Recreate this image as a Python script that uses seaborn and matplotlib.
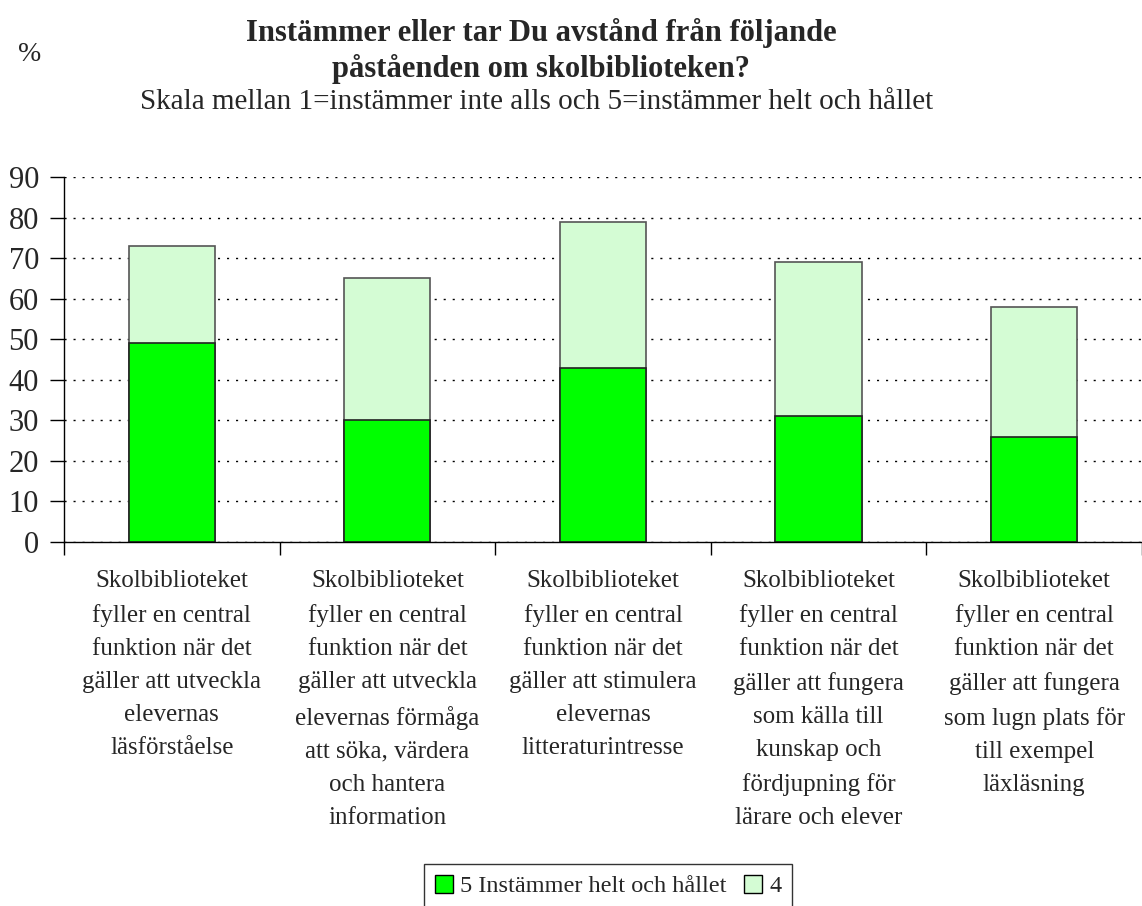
import pandas as pd
import matplotlib.pyplot as plt
import seaborn as sns
from matplotlib.patches import Patch

categories = [
    "Skolbiblioteket\nfyller en central\nfunktion när det\ngäller att utveckla\nelevernas\nläsförståelse",
    "Skolbiblioteket\nfyller en central\nfunktion när det\ngäller att utveckla\nelevernas förmåga\natt söka, värdera\noch hantera\ninformation",
    "Skolbiblioteket\nfyller en central\nfunktion när det\ngäller att stimulera\nelevernas\nlitteraturintresse",
    "Skolbiblioteket\nfyller en central\nfunktion när det\ngäller att fungera\nsom källa till\nkunskap och\nfördjupning för\nlärare och elever",
    "Skolbiblioteket\nfyller en central\nfunktion när det\ngäller att fungera\nsom lugn plats för\ntill exempel\nläxläsning",
]
helt = [49, 30, 43, 31, 26]
fyra = [24, 35, 36, 38, 32]
series_names = ["5 Instämmer helt och hållet", "4"]
y_ticks = [0, 10, 20, 30, 40, 50, 60, 70, 80, 90]

GREEN = "#00FF00"
LIGHT = "#D4FCD4"


def build_frame():
    df = pd.DataFrame({"kat": categories, "helt": helt, "fyra": fyra})
    df["total"] = df["helt"] + df["fyra"]
    return df


def plot_chart(df, save_path="out.png"):
    sns.set_style("white")
    plt.rcParams["font.family"] = ["Liberation Serif", "DejaVu Serif"]

    fig = plt.figure(figsize=(11.42, 9.06), dpi=100)
    ax = fig.add_axes([0.056, 0.4018, 0.944, 0.4029])

    sns.barplot(data=df, x="kat", y="total", color=LIGHT, width=0.4,
                edgecolor="#555555", linewidth=1.2, saturation=1, ax=ax)
    sns.barplot(data=df, x="kat", y="helt", color=GREEN, width=0.4,
                edgecolor="#222222", linewidth=1.2, saturation=1, ax=ax)

    ax.set_xlim(-0.5, len(categories) - 0.5)
    ax.set_ylim(0, 90)
    ax.set_yticks(y_ticks)
    ax.set_xlabel("")
    ax.set_ylabel("")
    ax.yaxis.grid(True, linestyle=(0, (1.5, 5)), color="black", linewidth=1)
    ax.set_axisbelow(True)

    for s in ["top", "right"]:
        ax.spines[s].set_visible(False)
    for s in ["left", "bottom"]:
        ax.spines[s].set_color("black")
        ax.spines[s].set_linewidth(1)

    ax.tick_params(axis="y", labelsize=22, length=10, width=1, color="black",
                   left=True, pad=8)
    ax.set_xticks(range(len(categories)))
    ax.set_xticklabels(categories, fontsize=18, linespacing=1.66, va="top")
    ax.tick_params(axis="x", which="major", length=0, pad=20)
    ax.set_xticks([i - 0.5 for i in range(len(categories) + 1)], minor=True)
    ax.tick_params(axis="x", which="minor", length=9, width=1, color="black",
                   bottom=True)

    fig.text(0.474, 0.964, "Instämmer eller tar Du avstånd från följande",
             ha="center", va="center", fontsize=22, fontweight="bold")
    fig.text(0.474, 0.924, "påståenden om skolbiblioteken?",
             ha="center", va="center", fontsize=22, fontweight="bold")
    fig.text(0.470, 0.887, "Skala mellan 1=instämmer inte alls och 5=instämmer helt och hållet",
             ha="center", va="center", fontsize=21)
    fig.text(0.026, 0.940, "%", ha="center", va="center", fontsize=20)

    handles = [Patch(facecolor=GREEN, edgecolor="black", linewidth=1),
               Patch(facecolor=LIGHT, edgecolor="black", linewidth=1)]
    leg = fig.legend(handles, series_names, loc="upper center",
                     bbox_to_anchor=(608 / 1142, 1 - 864 / 906), ncol=2,
                     fontsize=17.5, frameon=True, fancybox=False,
                     handlelength=0.75, handleheight=0.75, handletextpad=0.3,
                     columnspacing=0.7, borderpad=0.45, borderaxespad=0)
    leg.get_frame().set_edgecolor("black")
    leg.get_frame().set_linewidth(1)

    fig.savefig(save_path, dpi=100)


if __name__ == "__main__":
    plot_chart(build_frame())
